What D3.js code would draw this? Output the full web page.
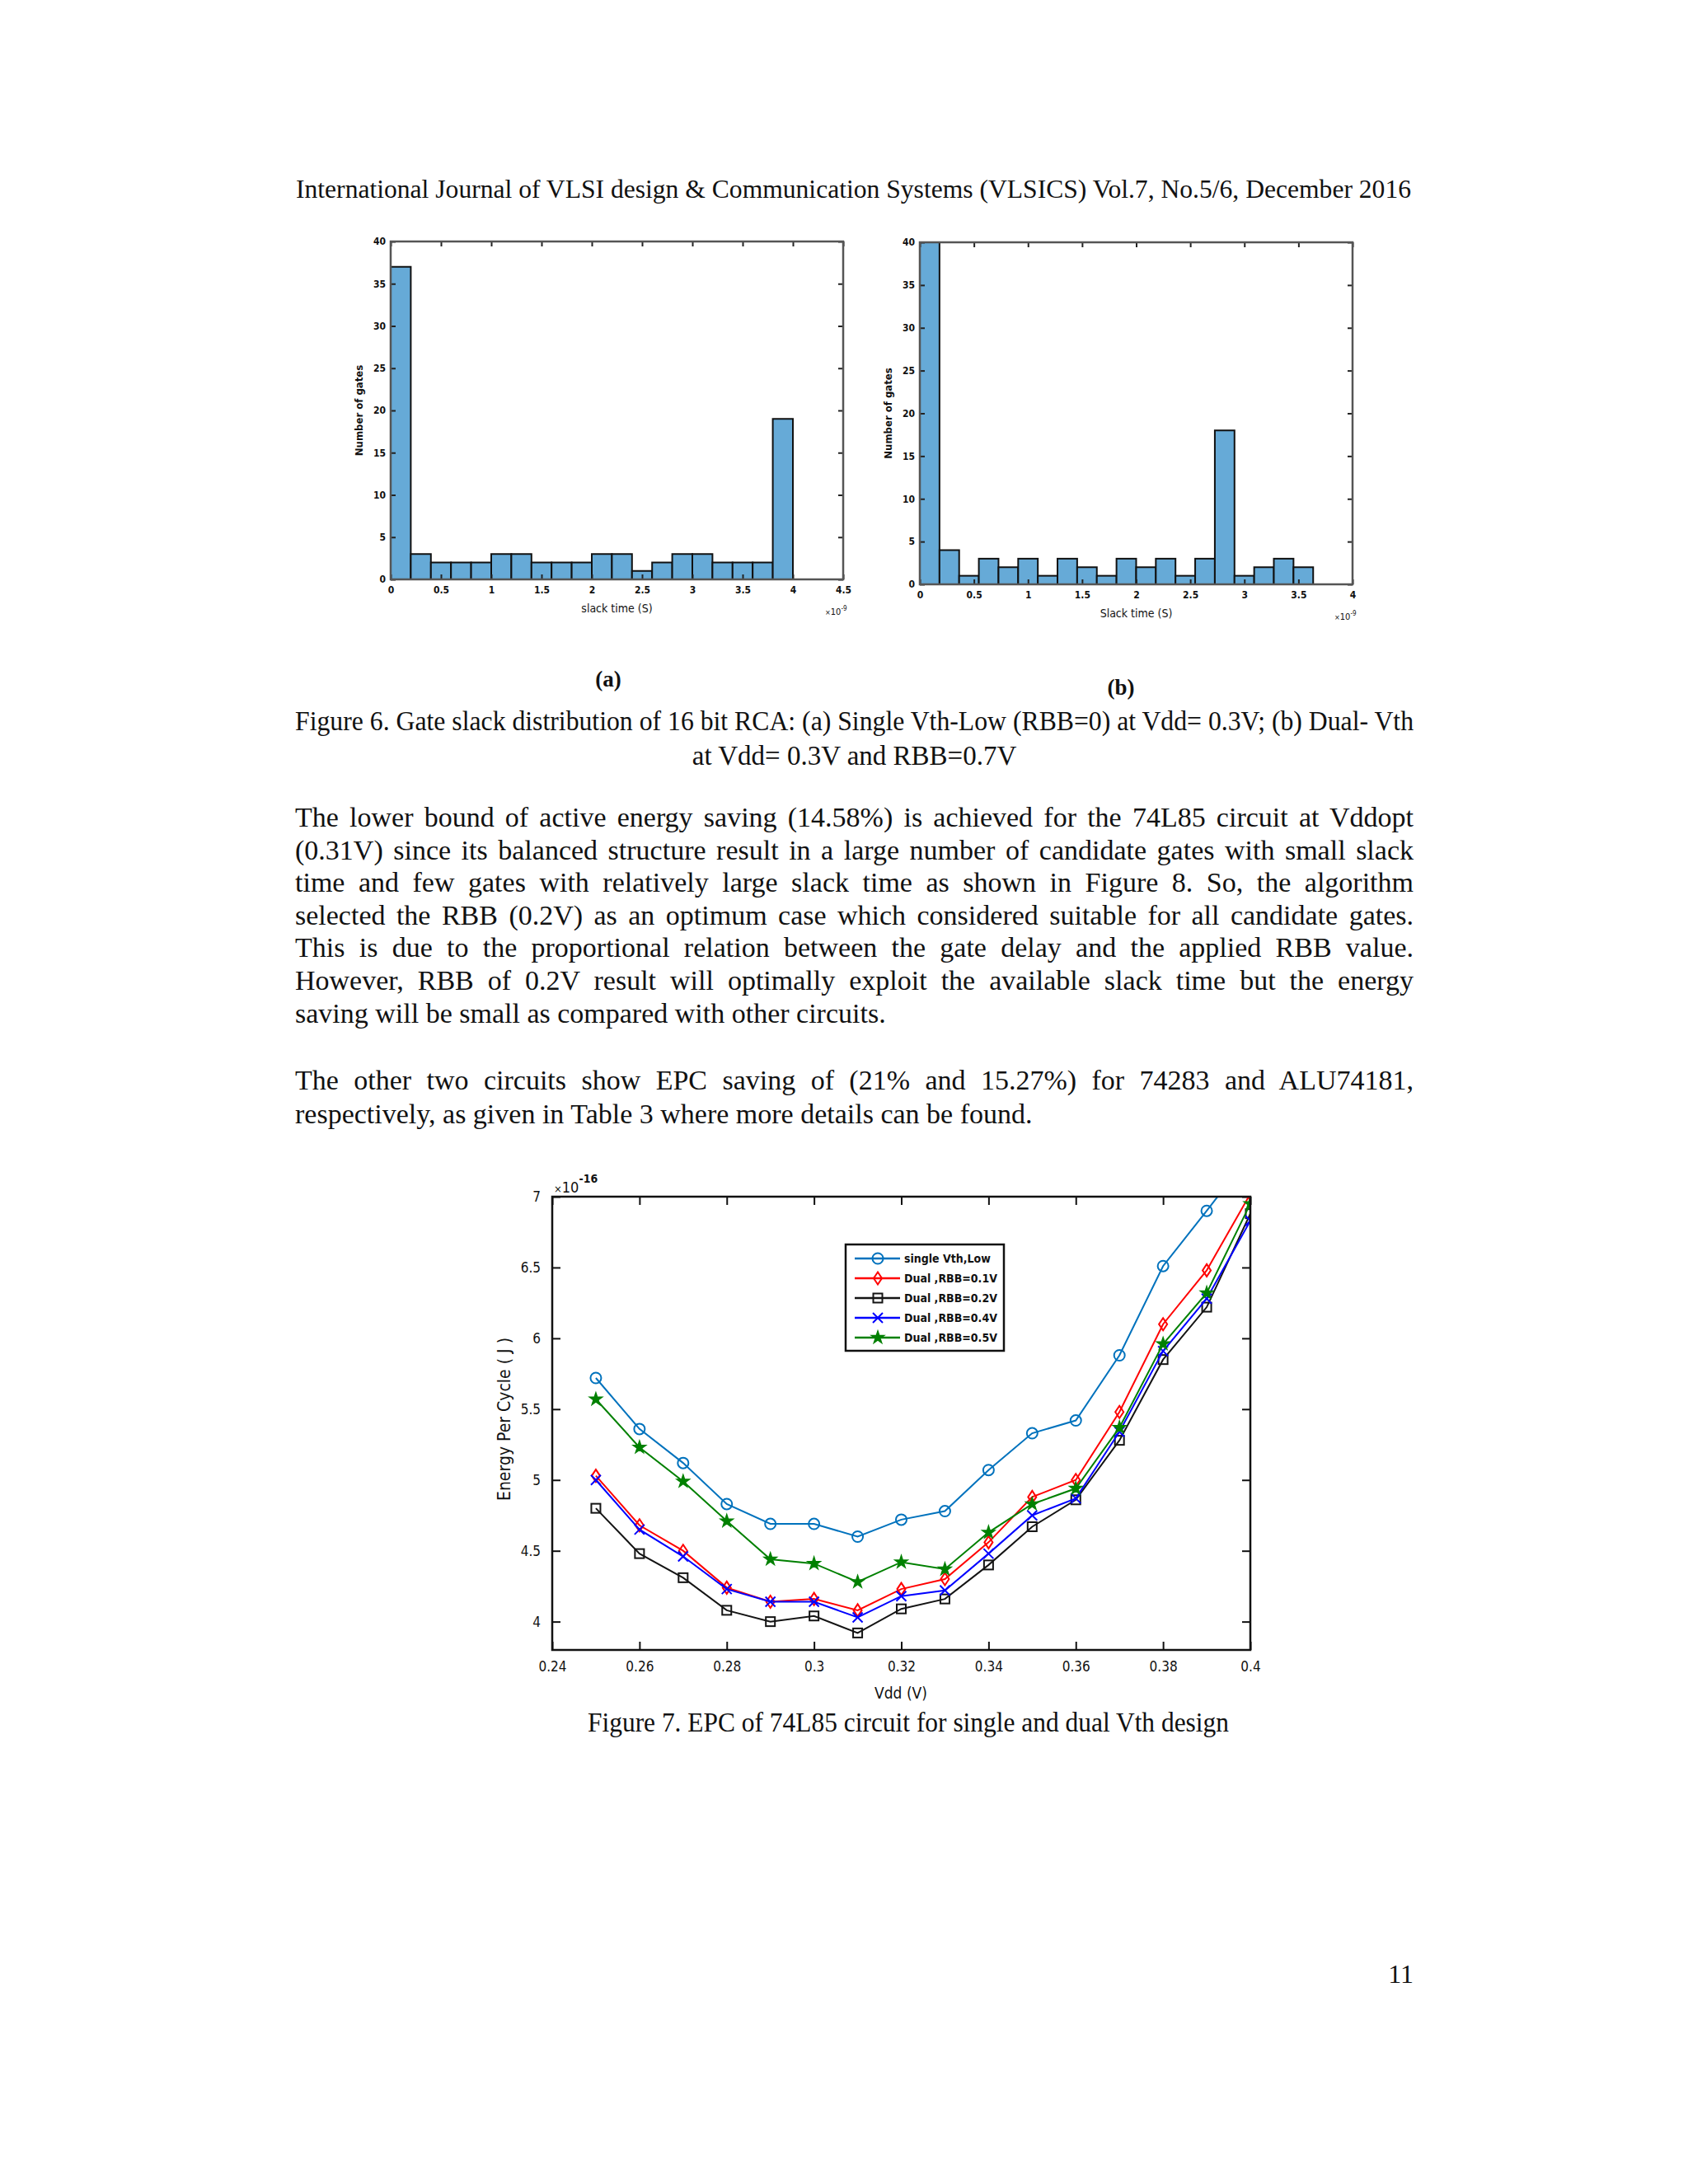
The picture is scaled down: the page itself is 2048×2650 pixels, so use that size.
<!DOCTYPE html>
<html>
<head>
<meta charset="utf-8">
<script src="https://cdn.jsdelivr.net/npm/d3@7"></script>
<style>
  html, body { margin: 0; padding: 0; background: #fff; }
  svg { display: block; }
  .serif { font-family: "Liberation Serif", "DejaVu Serif", serif; fill: #111; }
  .sans { font-family: "DejaVu Sans Condensed", "DejaVu Sans", sans-serif; fill: #111; }
</style>
</head>
<body>
<script>
(function(window, d3){
  'use strict';

  // ---- data: histogram (a) single Vth-Low, 0.2 ns bins
  var slackCountsA = [37, 3, 2, 2, 2, 3, 3, 2, 2, 2, 3, 3, 1, 2, 3, 3, 2, 2, 2, 19];
  var binWidthA = 0.2;
  var xTicksA = [0, 0.5, 1, 1.5, 2, 2.5, 3, 3.5, 4, 4.5];

  // ---- data: histogram (b) dual Vth
  var slackCountsB = [40, 4, 1, 3, 2, 3, 1, 3, 2, 1, 3, 2, 3, 1, 3, 18, 1, 2, 3, 2];
  var binWidthB = 0.1818;
  var xTicksB = [0, 0.5, 1, 1.5, 2, 2.5, 3, 3.5, 4];

  var yTicksHist = [0, 5, 10, 15, 20, 25, 30, 35, 40];

  // ---- data: EPC vs Vdd (x1e-16 J)
  var vdd = [0.25, 0.26, 0.27, 0.28, 0.29, 0.30, 0.31, 0.32, 0.33, 0.34, 0.35, 0.36, 0.37, 0.38, 0.39, 0.40];
  var epcSingle = [5.72, 5.36, 5.12, 4.83, 4.69, 4.69, 4.60, 4.72, 4.78, 5.07, 5.33, 5.42, 5.88, 6.51, 6.90, 7.30];
  var epcRbb01  = [5.03, 4.68, 4.50, 4.24, 4.14, 4.16, 4.08, 4.23, 4.30, 4.56, 4.88, 5.00, 5.48, 6.10, 6.48, 7.02];
  var epcRbb02  = [4.80, 4.48, 4.31, 4.08, 4.00, 4.04, 3.92, 4.09, 4.16, 4.40, 4.67, 4.86, 5.28, 5.85, 6.22, 6.88];
  var epcRbb04  = [5.00, 4.65, 4.46, 4.23, 4.14, 4.14, 4.03, 4.18, 4.22, 4.48, 4.75, 4.87, 5.34, 5.91, 6.28, 6.83];
  var epcRbb05  = [5.57, 5.23, 4.99, 4.71, 4.44, 4.41, 4.28, 4.42, 4.37, 4.63, 4.83, 4.94, 5.37, 5.96, 6.32, 6.95];
  var seriesNames = ['single Vth,Low', 'Dual ,RBB=0.1V', 'Dual ,RBB=0.2V', 'Dual ,RBB=0.4V', 'Dual ,RBB=0.5V'];
  var xTicksEpc = [0.24, 0.26, 0.28, 0.30, 0.32, 0.34, 0.36, 0.38, 0.40];
  var yTicksEpc = [4, 4.5, 5, 5.5, 6, 6.5, 7];

  var W = 2048, H = 2650;
  var svg = d3.select('body').append('svg').attr('width', W).attr('height', H);
  svg.append('rect').attr('width', W).attr('height', H).attr('fill', '#fff');

  // ---- page text
  var textLeft = 358, textRight = 1715, textMid = (textLeft + textRight) / 2;

  var line = function(str, x, y, size, opts) {
    opts = opts || {};
    var t = svg.append('text').attr('class', 'serif')
      .attr('x', x).attr('y', y)
      .attr('font-size', size)
      .attr('text-anchor', opts.anchor || 'start')
      .text(str);
    if (opts.weight) t.attr('font-weight', opts.weight);
    if (opts.len) {
      // justify: widen word gaps when short, squeeze glyphs when long
      var natural = t.node().getComputedTextLength();
      var gaps = (str.match(/ /g) || []).length;
      if (natural < opts.len && gaps > 0) {
        t.attr('word-spacing', (opts.len - natural) / gaps);
      } else {
        t.attr('textLength', opts.len).attr('lengthAdjust', 'spacingAndGlyphs');
      }
    }
    return t;
  };

  line('International Journal of VLSI design & Communication Systems (VLSICS) Vol.7, No.5/6, December 2016',
    359, 240, 32, {len: 1353});

  line('(a)', 738, 833, 27, {anchor: 'middle', weight: 'bold'});
  line('(b)', 1360, 843, 27, {anchor: 'middle', weight: 'bold'});

  line('Figure 6. Gate slack distribution of 16 bit RCA: (a) Single Vth-Low (RBB=0) at Vdd= 0.3V; (b) Dual- Vth',
    textLeft, 886, 33, {len: textRight - textLeft});
  line('at Vdd= 0.3V and RBB=0.7V', textMid, 928, 33, {anchor: 'middle'});

  var para1 = [
    'The lower bound of active energy saving (14.58%) is achieved for the 74L85 circuit at Vddopt',
    '(0.31V) since its balanced structure result in a large number of candidate gates with small slack',
    'time and few gates with relatively large slack time as shown in Figure 8. So, the algorithm',
    'selected the RBB (0.2V) as an optimum case which considered suitable for all candidate gates.',
    'This is due to the proportional relation between the gate delay and the applied RBB value.',
    'However, RBB of 0.2V result will optimally exploit the available slack time but the energy',
    'saving will be small as compared with other circuits.'
  ];
  para1.forEach(function(s, i) {
    var last = i === para1.length - 1;
    line(s, textLeft, 1003 + i * 39.6, 34, last ? {} : {len: textRight - textLeft});
  });

  var para2 = [
    'The other two circuits show EPC saving of (21% and 15.27%) for 74283 and ALU74181,',
    'respectively, as given in Table 3 where more details can be found.'
  ];
  para2.forEach(function(s, i) {
    var last = i === para2.length - 1;
    line(s, textLeft, 1322 + i * 40.5, 34, last ? {} : {len: textRight - textLeft});
  });

  var cap7 = svg.append('text').attr('class', 'serif')
    .attr('x', 713).attr('y', 2101).attr('font-size', 33)
    .attr('textLength', 778).attr('lengthAdjust', 'spacingAndGlyphs')
    .text('Figure 7. EPC of 74L85 circuit for single and dual Vth design');
  line('11', textRight, 2406, 32, {anchor: 'end'});

  // ---- histogram
  var drawHist = function(o) {
    var g = svg.append('g');
    var x = d3.scaleLinear().domain([0, o.xMax]).range([o.left, o.right]);
    var y = d3.scaleLinear().domain([0, 40]).range([o.bottom, o.top]);

    g.selectAll('rect.bar')
      .data(o.counts)
      .enter().append('rect')
      .attr('class', 'bar')
      .attr('x', function(d, i) { return x(i * o.binWidth); })
      .attr('width', function() { return x(o.binWidth) - x(0); })
      .attr('y', function(d) { return y(d); })
      .attr('height', function(d) { return y(0) - y(d); })
      .attr('fill', 'rgb(102,170,215)')
      .attr('stroke', '#111')
      .attr('stroke-width', 2);

    var fmt = function(d) { return String(d); };
    var ax = function(axis, tx, ty, labels) {
      var a = g.append('g').attr('transform', 'translate(' + tx + ',' + ty + ')').call(axis);
      a.select('.domain').remove();
      a.selectAll('line').attr('stroke', '#222').attr('stroke-width', 2);
      a.selectAll('text').attr('class', 'sans').attr('font-size', 12).attr('font-weight', 'bold');
      if (!labels) a.selectAll('text').remove();
    };
    ax(d3.axisBottom(x).tickValues(o.xTicks).tickFormat(fmt).tickSizeInner(-6).tickSizeOuter(0).tickPadding(8), 0, o.bottom, true);
    ax(d3.axisTop(x).tickValues(o.xTicks).tickSizeInner(-6).tickSizeOuter(0), 0, o.top, false);
    ax(d3.axisLeft(y).tickValues(yTicksHist).tickFormat(fmt).tickSizeInner(-6).tickSizeOuter(0).tickPadding(6), o.left, 0, true);
    ax(d3.axisRight(y).tickValues(yTicksHist).tickSizeInner(-6).tickSizeOuter(0), o.right, 0, false);

    g.append('rect')
      .attr('x', o.left).attr('y', o.top)
      .attr('width', o.right - o.left).attr('height', o.bottom - o.top)
      .attr('fill', 'none').attr('stroke', '#555').attr('stroke-width', 2.5);

    g.append('text').attr('class', 'sans')
      .attr('transform', 'translate(' + (o.left - 34) + ',' + ((o.top + o.bottom) / 2) + ') rotate(-90)')
      .attr('text-anchor', 'middle').attr('font-size', 13).attr('font-weight', 'bold')
      .text('Number of gates');
    g.append('text').attr('class', 'sans')
      .attr('x', (o.left + o.right) / 2).attr('y', o.bottom + 40)
      .attr('text-anchor', 'middle').attr('font-size', 14)
      .text(o.xLabel);
    var e = g.append('text').attr('class', 'sans')
      .attr('x', o.right - 22).attr('y', o.bottom + 43).attr('font-size', 9).attr('fill', '#888');
    e.append('tspan').text('×');
    e.append('tspan').attr('font-size', 11).attr('fill', '#111').text('10');
    e.append('tspan').attr('font-size', 8).attr('dy', -5).attr('fill', '#111').text('-9');
  };

  drawHist({left: 474, right: 1023, top: 293, bottom: 703, xMax: 4.5,
    counts: slackCountsA, binWidth: binWidthA, xTicks: xTicksA, xLabel: 'slack time (S)'});
  drawHist({left: 1116, right: 1641, top: 294, bottom: 709, xMax: 4,
    counts: slackCountsB, binWidth: binWidthB, xTicks: xTicksB, xLabel: 'Slack time (S)'});

  // ---- EPC line chart
  var L = 670, R = 1517, T = 1452, B = 2002;
  var x = d3.scaleLinear().domain([0.24, 0.40]).range([L, R]);
  var y = d3.scaleLinear().domain([3.8, 7]).range([B, T]);
  var g = svg.append('g');

  svg.append('defs').append('clipPath').attr('id', 'plotclip')
    .append('rect').attr('x', L).attr('y', T).attr('width', R - L).attr('height', B - T);

  var fmtX = function(d) { return String(+d.toFixed(2)); };
  var axE = function(axis, tx, ty, labels) {
    var a = g.append('g').attr('transform', 'translate(' + tx + ',' + ty + ')').call(axis);
    a.select('.domain').remove();
    a.selectAll('line').attr('stroke', '#111').attr('stroke-width', 2);
    a.selectAll('text').attr('class', 'sans').attr('font-size', 17);
    if (!labels) a.selectAll('text').remove();
  };
  axE(d3.axisBottom(x).tickValues(xTicksEpc).tickFormat(fmtX).tickSizeInner(-10).tickSizeOuter(0).tickPadding(14), 0, B, true);
  axE(d3.axisTop(x).tickValues(xTicksEpc).tickSizeInner(-10).tickSizeOuter(0), 0, T, false);
  axE(d3.axisLeft(y).tickValues(yTicksEpc).tickFormat(function(d) { return String(d); }).tickSizeInner(-10).tickSizeOuter(0).tickPadding(14), L, 0, true);
  axE(d3.axisRight(y).tickValues(yTicksEpc).tickSizeInner(-10).tickSizeOuter(0), R, 0, false);

  var series = [
    {name: seriesNames[0], values: epcSingle, color: 'rgb(0,114,189)', sym: 'circle'},
    {name: seriesNames[1], values: epcRbb01,  color: 'rgb(255,0,0)',   sym: 'diamond'},
    {name: seriesNames[2], values: epcRbb02,  color: 'rgb(20,20,20)',  sym: 'square'},
    {name: seriesNames[3], values: epcRbb04,  color: 'rgb(0,0,255)',   sym: 'cross'},
    {name: seriesNames[4], values: epcRbb05,  color: 'rgb(0,128,0)',   sym: 'star'}
  ];

  var drawMarker = function(sel, s, cx, cy) {
    var m = sel.append('g').attr('transform', 'translate(' + cx + ',' + cy + ')');
    if (s.sym === 'circle') {
      m.append('circle').attr('r', 6.5).attr('fill', 'none').attr('stroke', s.color).attr('stroke-width', 2);
    } else if (s.sym === 'diamond') {
      m.append('path').attr('d', 'M0,-7.5L5,0L0,7.5L-5,0Z').attr('fill', 'none').attr('stroke', s.color).attr('stroke-width', 2);
    } else if (s.sym === 'square') {
      m.append('rect').attr('x', -5.5).attr('y', -5.5).attr('width', 11).attr('height', 11)
        .attr('fill', 'none').attr('stroke', s.color).attr('stroke-width', 2);
    } else if (s.sym === 'cross') {
      m.append('path').attr('d', 'M-6,-6L6,6M-6,6L6,-6').attr('stroke', s.color).attr('stroke-width', 2);
    } else {
      m.append('path').attr('d', d3.symbol().type(d3.symbolStar).size(70)())
        .attr('fill', s.color).attr('stroke', s.color).attr('stroke-width', 1.5);
    }
  };

  var lineGen = d3.line()
    .x(function(d, i) { return x(vdd[i]); })
    .y(function(d) { return y(d); });

  var plot = g.append('g').attr('clip-path', 'url(#plotclip)');
  series.forEach(function(s) {
    plot.append('path').datum(s.values)
      .attr('d', lineGen)
      .attr('fill', 'none').attr('stroke', s.color).attr('stroke-width', 2);
    s.values.forEach(function(v, i) {
      if (v <= 7.02) drawMarker(plot, s, x(vdd[i]), y(v));
    });
  });

  g.append('rect')
    .attr('x', L).attr('y', T).attr('width', R - L).attr('height', B - T)
    .attr('fill', 'none').attr('stroke', '#111').attr('stroke-width', 2.5);

  // exponent label
  var ex = g.append('text').attr('class', 'sans').attr('x', L + 2).attr('y', T - 5).attr('font-size', 13).attr('fill', '#999');
  ex.append('tspan').text('×');
  ex.append('tspan').attr('font-size', 18).attr('fill', '#111').text('10');
  ex.append('tspan').attr('font-size', 14).attr('dy', -12).attr('fill', '#111').attr('font-weight', 'bold').text('-16');

  g.append('text').attr('class', 'sans')
    .attr('transform', 'translate(619,' + ((T + B) / 2 - 5) + ') rotate(-90)')
    .attr('text-anchor', 'middle').attr('font-size', 21)
    .text('Energy Per Cycle ( J )');
  g.append('text').attr('class', 'sans')
    .attr('x', 1093).attr('y', 2061).attr('text-anchor', 'middle').attr('font-size', 19)
    .text('Vdd (V)');

  // legend
  var lg = g.append('g');
  lg.append('rect').attr('x', 1026).attr('y', 1510).attr('width', 192).attr('height', 129)
    .attr('fill', '#fff').attr('stroke', '#111').attr('stroke-width', 2.5);
  series.forEach(function(s, i) {
    var ly = 1527 + i * 24;
    lg.append('line').attr('x1', 1037).attr('x2', 1092).attr('y1', ly).attr('y2', ly)
      .attr('stroke', s.color).attr('stroke-width', 2.5);
    drawMarker(lg, s, 1065, ly);
    lg.append('text').attr('class', 'sans').attr('x', 1097).attr('y', ly + 5)
      .attr('font-size', 14).attr('font-weight', 'bold').text(s.name);
  });

})(window, window.d3);
</script>
</body>
</html>
